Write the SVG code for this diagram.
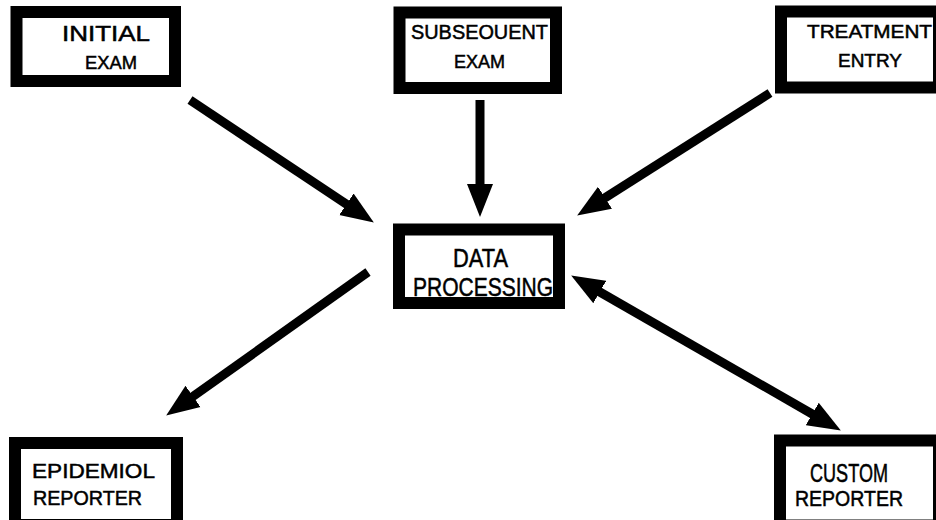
<svg xmlns="http://www.w3.org/2000/svg" width="936" height="520" viewBox="0 0 936 520">
<style>
.box{fill:#fff;stroke:#000;stroke-width:12}
.t{font-family:"Liberation Sans","DejaVu Sans",sans-serif;fill:#000;stroke:#000;stroke-width:0.5}
.c{fill:none;stroke:#000;stroke-width:9}
</style>
<defs>
<marker id="ah" markerUnits="userSpaceOnUse" viewBox="0 -14 34 28" refX="16" refY="0" markerWidth="34" markerHeight="28" orient="auto-start-reverse">
<path d="M0,-13 L33,0 L0,13 z" fill="#000"/>
</marker>
</defs>
<rect width="936" height="520" fill="#fff"/>
<g id="connectors">
<line class="c" x1="190" y1="100" x2="359.7" y2="213.1" marker-end="url(#ah)"/>
<line class="c" x1="480" y1="100" x2="480" y2="200" marker-end="url(#ah)"/>
<line class="c" x1="770" y1="93" x2="591.5" y2="206.4" marker-end="url(#ah)"/>
<line class="c" x1="585.9" y1="284" x2="826.1" y2="422" marker-start="url(#ah)" marker-end="url(#ah)"/>
<line class="c" x1="368" y1="272" x2="180" y2="405.7" marker-end="url(#ah)"/>
</g>
<g id="initial-exam">
<rect class="box" x="16.5" y="12" width="158.5" height="69"/>
<text class="t" x="62" y="41" font-size="21.5" textLength="88" lengthAdjust="spacingAndGlyphs">INITIAL</text>
<text class="t" x="85" y="69" font-size="19" textLength="52" lengthAdjust="spacingAndGlyphs">EXAM</text>
</g>
<g id="subsequent-exam">
<rect class="box" x="399.5" y="12.5" width="156.5" height="75.5"/>
<text class="t" x="411" y="39" font-size="20" textLength="137" lengthAdjust="spacingAndGlyphs">SUBSEOUENT</text>
<text class="t" x="454" y="68" font-size="19" textLength="51" lengthAdjust="spacingAndGlyphs">EXAM</text>
</g>
<g id="treatment-entry">
<rect class="box" x="781" y="11.5" width="158" height="76"/>
<text class="t" x="807" y="38" font-size="19" textLength="125" lengthAdjust="spacingAndGlyphs">TREATMENT</text>
<text class="t" x="838" y="67" font-size="19" textLength="64" lengthAdjust="spacingAndGlyphs">ENTRY</text>
</g>
<g id="data-processing">
<rect class="box" x="399" y="229.5" width="160" height="73.5"/>
<text class="t" x="453" y="267" font-size="26" textLength="55" lengthAdjust="spacingAndGlyphs">DATA</text>
<text class="t" x="413" y="296" font-size="26" textLength="140" lengthAdjust="spacingAndGlyphs">PROCESSING</text>
</g>
<g id="epidemiol-reporter">
<rect class="box" x="15" y="443" width="162" height="82"/>
<text class="t" x="32" y="478" font-size="21" textLength="123" lengthAdjust="spacingAndGlyphs">EPIDEMIOL</text>
<text class="t" x="33" y="505" font-size="21" textLength="109" lengthAdjust="spacingAndGlyphs">REPORTER</text>
</g>
<g id="custom-reporter">
<rect class="box" x="780" y="440.5" width="159" height="85"/>
<text class="t" x="810" y="482" font-size="25" textLength="78" lengthAdjust="spacingAndGlyphs">CUSTOM</text>
<text class="t" x="795" y="506" font-size="22.5" textLength="108" lengthAdjust="spacingAndGlyphs">REPORTER</text>
</g>
</svg>
